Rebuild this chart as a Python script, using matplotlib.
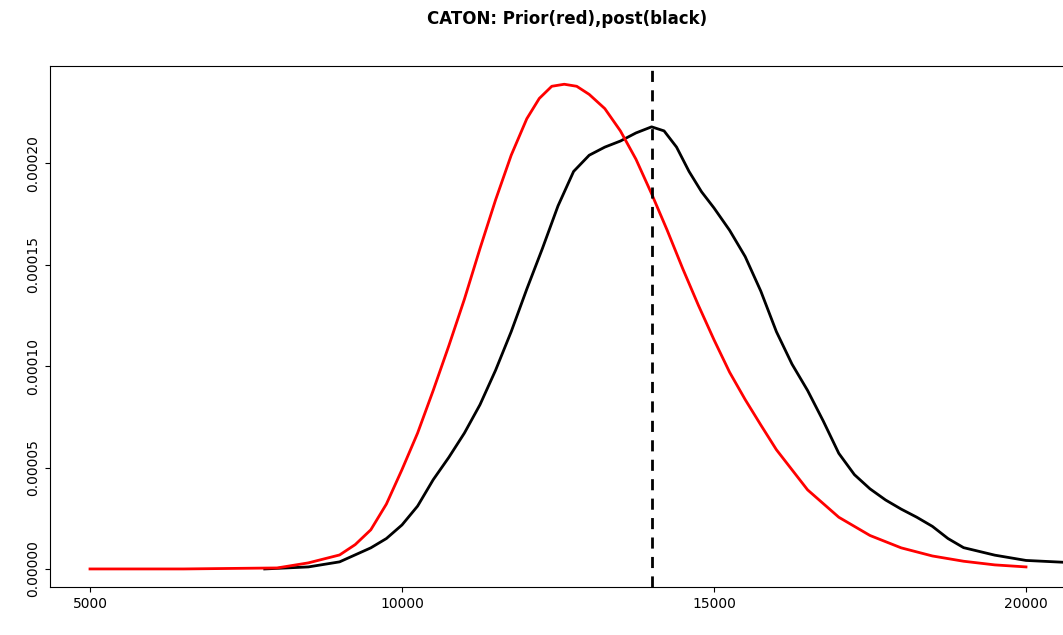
import matplotlib
matplotlib.use("Agg")
import matplotlib.pyplot as plt

# prior density (red)
prior_x = [5000, 6500, 8000, 8500, 9000, 9250, 9500, 9750, 10000, 10250, 10500, 10750, 11000,
           11250, 11500, 11750, 12000, 12200, 12400, 12600, 12800, 13000, 13250, 13500, 13750,
           14000, 14250, 14500, 14750, 15000, 15250, 15500, 15750, 16000, 16500, 17000, 17500,
           18000, 18500, 19000, 19500, 20000]
prior_y = [0, 0, 0.0000005, 0.000003, 0.0000069, 0.000012, 0.0000193, 0.000032, 0.000049, 0.000067,
           0.000088, 0.000110, 0.000133, 0.000158, 0.000182, 0.000204, 0.000222, 0.000232, 0.000238,
           0.000239, 0.000238, 0.000234, 0.000227, 0.000216, 0.000202, 0.000185, 0.000167, 0.000148,
           0.000130, 0.000113, 0.000097, 0.0000835, 0.000071, 0.0000588, 0.000039, 0.0000255,
           0.0000165, 0.0000104, 0.0000064, 0.0000038, 0.000002, 0.000001]

# posterior density (black)
post_x = [7800, 8500, 9000, 9500, 9750, 10000, 10250, 10500, 10750, 11000, 11250, 11500, 11750,
          12000, 12250, 12500, 12750, 13000, 13250, 13500, 13750, 14000, 14200, 14400, 14600,
          14800, 15000, 15250, 15500, 15750, 16000, 16250, 16500, 16750, 17000, 17250, 17500,
          17750, 18000, 18250, 18500, 18750, 19000, 19500, 20000, 20600]
post_y = [0, 0.000001, 0.0000035, 0.0000104, 0.000015, 0.0000217, 0.000031, 0.000044, 0.000055,
          0.000067, 0.000081, 0.000098, 0.000117, 0.000138, 0.000158, 0.000179, 0.000196, 0.000204,
          0.000208, 0.000211, 0.000215, 0.000218, 0.000216, 0.000208, 0.000196, 0.000186,
          0.000178, 0.000167, 0.000154, 0.000137, 0.000117, 0.000101, 0.000088, 0.000073,
          0.0000570, 0.0000465, 0.0000395, 0.000034, 0.0000295, 0.0000255, 0.000021, 0.000015,
          0.0000105, 0.0000068, 0.0000042, 0.0000033]

true_value = 14000

fig = plt.figure(figsize=(10.63, 6.35), dpi=100)
ax = fig.add_axes([50 / 1063, 48 / 635, 1.02 - 50 / 1063, 521 / 635])
ax.plot(post_x, post_y, color="black", lw=2)
ax.plot(prior_x, prior_y, color="red", lw=2)
ax.axvline(true_value, color="black", lw=2, ls=(0, (4, 3)))
ax.set_xlim(4359, 20593 + 0.02 * 1063 * 5000 / 312)
ax.set_ylim(-0.0000089, 0.000248)
ax.set_xticks([5000, 10000, 15000, 20000])
ax.set_yticks([0, 0.00005, 0.0001, 0.00015, 0.0002])
ax.set_yticklabels(["0.00000", "0.00005", "0.00010", "0.00015", "0.00020"], rotation=90, va="center")
ax.tick_params(labelsize=10)
ax.set_title("CATON: Prior(red),post(black)", fontweight="bold", fontsize=12, pad=30)
fig.savefig("out.png", dpi=100)
